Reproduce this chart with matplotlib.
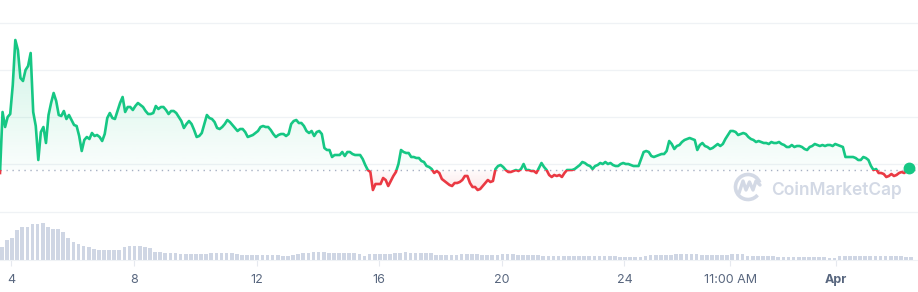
import matplotlib
matplotlib.use("Agg")
import matplotlib.pyplot as plt
import matplotlib.dates as mdates
import numpy as np
import pandas as pd
from matplotlib.patches import Rectangle, Arc
from matplotlib.path import Path

# 2-hourly price (open price = 2.00)
prices = [
    1.97, 2.58, 2.43, 2.53, 2.56, 2.85, 3.30, 3.20, 2.92, 2.89, 3.00, 3.04,
    3.17, 2.58, 2.44, 2.10, 2.38, 2.43, 2.27, 2.55, 2.67, 2.77, 2.69, 2.55,
    2.54, 2.59, 2.51, 2.55, 2.50, 2.45, 2.44, 2.34, 2.19, 2.30, 2.33, 2.31,
    2.37, 2.34, 2.35, 2.33, 2.29, 2.36, 2.52, 2.57, 2.52, 2.51, 2.59, 2.67,
    2.73, 2.58, 2.63, 2.63, 2.60, 2.64, 2.67, 2.65, 2.63, 2.59, 2.56, 2.56,
    2.57, 2.64, 2.61, 2.63, 2.63, 2.60, 2.56, 2.59, 2.59, 2.57, 2.53, 2.49,
    2.42, 2.46, 2.49, 2.46, 2.40, 2.33, 2.34, 2.37, 2.46, 2.55, 2.52, 2.51,
    2.48, 2.42, 2.41, 2.43, 2.46, 2.50, 2.48, 2.45, 2.42, 2.39, 2.41, 2.41,
    2.38, 2.33, 2.34, 2.35, 2.37, 2.39, 2.43, 2.44, 2.43, 2.43, 2.40, 2.36,
    2.33, 2.35, 2.36, 2.36, 2.34, 2.36, 2.46, 2.49, 2.50, 2.47, 2.47, 2.44,
    2.39, 2.37, 2.39, 2.34, 2.38, 2.39, 2.36, 2.22, 2.20, 2.20, 2.13, 2.15,
    2.15, 2.15, 2.18, 2.14, 2.18, 2.18, 2.16, 2.15, 2.15, 2.15, 2.11, 2.05,
    2.00, 1.98, 1.80, 1.86, 1.86, 1.86, 1.92, 1.90, 1.84, 1.89, 1.94, 1.98,
    2.06, 2.20, 2.18, 2.17, 2.17, 2.13, 2.13, 2.12, 2.12, 2.09, 2.08, 2.04,
    2.03, 2.01, 1.97, 1.99, 1.97, 1.91, 1.89, 1.87, 1.85, 1.84, 1.87, 1.87,
    1.88, 1.90, 1.94, 1.94, 1.87, 1.83, 1.83, 1.80, 1.81, 1.84, 1.87, 1.90,
    1.88, 1.89, 2.01, 2.04, 2.05, 2.03, 2.00, 1.98, 1.98, 1.99, 2.00, 1.99,
    2.01, 2.06, 2.00, 2.00, 1.99, 1.99, 1.97, 2.02, 2.07, 2.03, 2.00, 1.95,
    1.93, 1.95, 1.94, 1.95, 1.93, 1.97, 2.00, 2.00, 2.00, 2.01, 2.03, 2.05,
    2.08, 2.07, 2.05, 2.04, 2.01, 2.04, 2.05, 2.07, 2.06, 2.08, 2.06, 2.07,
    2.05, 2.04, 2.04, 2.06, 2.07, 2.06, 2.06, 2.05, 2.04, 2.04, 2.04, 2.11,
    2.18, 2.19, 2.18, 2.14, 2.13, 2.14, 2.15, 2.16, 2.16, 2.19, 2.29, 2.26,
    2.21, 2.24, 2.25, 2.28, 2.30, 2.31, 2.32, 2.31, 2.30, 2.20, 2.25, 2.27,
    2.24, 2.23, 2.21, 2.22, 2.24, 2.26, 2.24, 2.26, 2.31, 2.35, 2.39, 2.39,
    2.38, 2.35, 2.36, 2.37, 2.36, 2.33, 2.31, 2.30, 2.28, 2.29, 2.28, 2.27,
    2.27, 2.26, 2.28, 2.27, 2.27, 2.28, 2.26, 2.25, 2.23, 2.23, 2.25, 2.23,
    2.24, 2.24, 2.23, 2.21, 2.20, 2.23, 2.24, 2.26, 2.25, 2.24, 2.25, 2.24,
    2.25, 2.25, 2.24, 2.26, 2.25, 2.24, 2.23, 2.13, 2.13, 2.13, 2.13, 2.12,
    2.10, 2.10, 2.13, 2.12, 2.10, 2.04, 2.00, 2.01, 1.97, 1.97, 1.96, 1.93,
    1.94, 1.96, 1.94, 1.95, 1.97, 1.98, 1.97, 1.99, 2.02,
]

# 4-hourly volume (millions)
volumes = [
    13, 20, 22, 30, 33, 33, 36, 36, 37, 33, 31, 31,
    28, 22, 18, 16, 14, 13, 11, 10, 10, 10, 10, 10,
    13, 14, 14, 14, 13, 12, 8, 8, 7, 7, 7, 6,
    6, 6, 6, 6, 6, 7, 7, 7, 7, 7, 6, 5,
    5, 5, 5, 5, 5, 5, 5, 4, 4, 5, 6, 7,
    7, 8, 8, 8, 7, 7, 7, 7, 7, 7, 6, 4.5,
    6, 6, 6, 6, 6, 7, 7, 8, 7, 7, 7, 7,
    7, 5, 5, 5, 5, 5, 6, 6, 6, 6, 5, 5,
    5, 5, 6, 6, 6, 5, 5, 5, 5, 5, 4.5, 4.5,
    4.5, 4.5, 4.5, 4.5, 4.5, 4.5, 4.5, 4.5, 4.5, 4.5, 4.5, 4.5,
    4.5, 3.5, 3.5, 3.5, 3.5, 3.5, 4.5, 5, 5, 5, 5, 5.5,
    6.3, 6.3, 6.3, 6.3, 6.3, 5.5, 5, 5, 5, 5, 5, 6,
    6, 6, 4.5, 4.5, 4.5, 4.5, 4.5, 4.5, 3.5, 3.5, 3.5, 3.5,
    3.5, 3.5, 3.5, 3.5, 3.5, 3.5, 2.5, 2.5, 3.7, 3.7, 3.7, 3.7,
    3.7, 3.7, 3.7, 4.5, 4.5, 4.5, 4.5, 4.5, 4.5, 3.5, 3.5,
]

open_price = 2.00
start = "2022-03-03 15:00"
tick_dates = ["2022-03-04 00:00", "2022-03-08 00:00", "2022-03-12 00:00", "2022-03-16 00:00",
              "2022-03-20 00:00", "2022-03-24 00:00", "2022-03-27 11:00", "2022-03-30 21:40"]
tick_labels = ["4", "8", "12", "16", "20", "24", "11:00 AM", "Apr"]
grid_levels = [3.47, 3.00, 2.53, 2.06, 1.58]

GREEN = "#16c784"
RED = "#ea3943"
GRID = "#eff2f5"
W, H = 918, 292

price_t = mdates.date2num(pd.date_range(start, periods=len(prices), freq="2h"))
vol_t = mdates.date2num(pd.date_range(start, periods=len(volumes), freq="4h"))
p = np.array(prices)
xl = mdates.date2num(pd.Timestamp(start))
xr = xl + W / 30.65

fig = plt.figure(figsize=(W / 100, H / 100), dpi=100)
wax = fig.add_axes([0, 0, 1, 1])
wax.set_xlim(0, W)
wax.set_ylim(H, 0)
wax.axis("off")

ax = fig.add_axes([0, 80 / H, 1, 212 / H])
ax.patch.set_alpha(0)
vax = fig.add_axes([0, 32 / H, 1, 48 / H])
vax.patch.set_alpha(0)

# watermark
wm = "#d3d9e5"
wax.add_patch(Arc((748, 187), 25, 25, theta1=40, theta2=340, color=wm, lw=2.6))
wax.plot([739, 743, 746, 749.5, 753, 756, 760], [193, 181, 190, 182, 190, 181, 185],
         color=wm, lw=2.4, solid_capstyle="round", solid_joinstyle="round")
wax.text(771, 190, "CoinMarketCap", fontsize=12.5, color=wm, family="Inter",
         fontweight="semibold", va="center", ha="left")

# price panel
for g in grid_levels:
    ax.axhline(g, color=GRID, lw=0.9, zorder=0, clip_on=False)
ax.axhline(open_price, color="#a6b0c3", lw=1.0, ls=(0, (1, 3.3)), zorder=1)


def gradient_fill(coll, rgb, a_low, a_high, y0, y1):
    g = np.zeros((256, 1, 4))
    g[..., :3] = matplotlib.colors.to_rgb(rgb)
    g[:, 0, 3] = np.linspace(a_low, a_high, 256)
    im = ax.imshow(g, extent=[xl, xr, y0, y1], origin="lower", aspect="auto",
                   zorder=1, interpolation="bilinear")
    im.set_clip_path(Path.make_compound_path(*coll.get_paths()), ax.transData)


up = ax.fill_between(price_t, p, open_price, where=p >= open_price,
                     interpolate=True, color="none", lw=0)
dn = ax.fill_between(price_t, p, open_price, where=p <= open_price,
                     interpolate=True, color="none", lw=0)
gradient_fill(up, GREEN, 0.02, 0.2, open_price, p.max())
gradient_fill(dn, RED, 0.12, 0.02, p.min(), open_price)

for color, rect in ((GREEN, Rectangle((xl, open_price), xr - xl, 10, transform=ax.transData)),
                    (RED, Rectangle((xl, 0), xr - xl, open_price, transform=ax.transData))):
    ln, = ax.plot(price_t, p, color=color, lw=1.9, solid_joinstyle="round", zorder=3)
    ln.set_clip_path(rect)
ax.plot(price_t[-1], p[-1], "o", color=GREEN, ms=7.5, zorder=4, clip_on=False)

ax.set_xlim(xl, xr)
ax.set_ylim(1.58, 3.70)
ax.axis("off")

# volume panel
vax.bar(vol_t, volumes, width=0.72 / 6, align="edge", color="#cfd6e4", lw=0)
vax.set_xlim(xl, xr)
vax.set_ylim(0, 48)
vax.set_yticks([])
for s in ("left", "right", "top"):
    vax.spines[s].set_visible(False)
vax.spines["bottom"].set_color(GRID)
vax.set_xticks(mdates.date2num(pd.to_datetime(tick_dates, format="%Y-%m-%d %H:%M")))
vax.set_xticklabels(tick_labels, family="Inter", fontsize=9, color="#58667e")
vax.tick_params(axis="x", length=4, width=0.8, color="#e6e9ef", pad=6)
for lab in vax.get_xticklabels():
    if lab.get_text() == "Apr":
        lab.set_fontweight("bold")

fig.savefig("out.png", dpi=100)
